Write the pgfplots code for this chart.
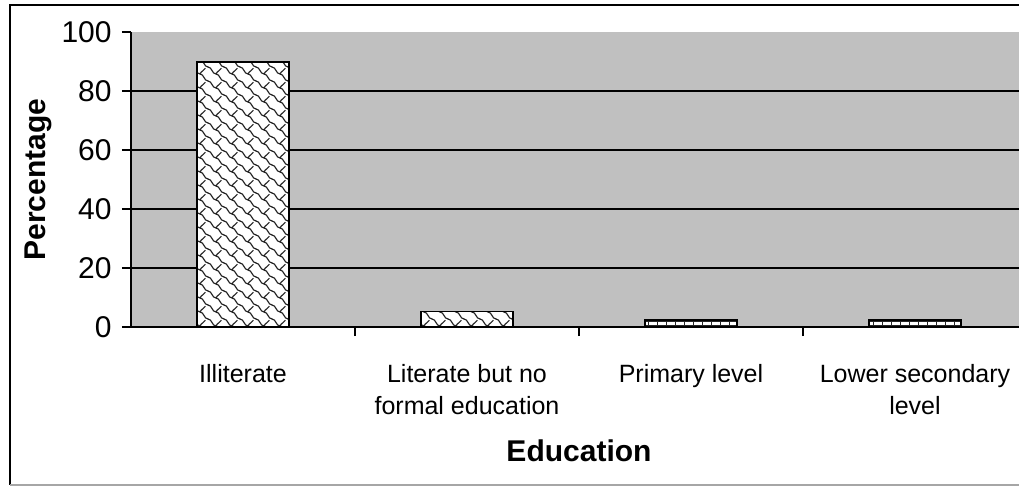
\documentclass[border=0pt]{standalone}
\usepackage{pgfplots}
\pgfplotsset{compat=1.18}
\usepackage{fontspec}
\setmainfont{Liberation Sans}
\usetikzlibrary{patterns}
\definecolor{graybg}{HTML}{C0C0C0}
\pgfdeclarepatternformonly{myscales}{\pgfqpoint{-1pt}{-1pt}}{\pgfqpoint{9pt}{8pt}}{\pgfqpoint{8pt}{7pt}}{
 \pgfsetlinewidth{0.6pt}
 \pgfpathmoveto{\pgfqpoint{0pt}{7pt}}
 \pgfpathcurveto{\pgfqpoint{2pt}{7pt}}{\pgfqpoint{2pt}{3.5pt}}{\pgfqpoint{4pt}{3.5pt}}
 \pgfpathcurveto{\pgfqpoint{6pt}{3.5pt}}{\pgfqpoint{6pt}{0pt}}{\pgfqpoint{8pt}{0pt}}
 \pgfpathmoveto{\pgfqpoint{4pt}{3.5pt}}
 \pgfpathcurveto{\pgfqpoint{4.8pt}{5.3pt}}{\pgfqpoint{6.1pt}{5pt}}{\pgfqpoint{6.7pt}{6.4pt}}
 \pgfusepath{stroke}
}
\pgfdeclarepatternformonly{mydashes}{\pgfqpoint{-1pt}{-1pt}}{\pgfqpoint{5pt}{3pt}}{\pgfqpoint{4.5pt}{2pt}}{
 \pgfsetlinewidth{0.45pt}
 \pgfpathmoveto{\pgfqpoint{0pt}{1pt}}
 \pgfpathlineto{\pgfqpoint{4.5pt}{1pt}}
 \pgfpathmoveto{\pgfqpoint{0.2pt}{0pt}}
 \pgfpathlineto{\pgfqpoint{0.2pt}{2pt}}
 \pgfusepath{stroke}
}
\pgfplotstableread{
x y
0 89.8
1 5.2
}\tableA
\pgfplotstableread{
x y
2 2.4
3 2.4
}\tableB
\begin{document}
\begin{tikzpicture}
\clip (-65.5pt,-80pt) rectangle (444pt,163.5pt);
\begin{axis}[
  scale only axis,
  width=448pt, height=147.5pt,
  xmin=-0.5, xmax=3.5, ymin=0, ymax=100,
  axis x line*=bottom, axis y line*=left,
  axis line style={line width=1pt, black},
  axis background/.style={fill=graybg},
  tick align=outside,
  major tick length=4.5pt,
  every tick/.style={black, line width=1pt},
  xtick={0.5,1.5,2.5}, xticklabels={},
  extra x ticks={0,1,2,3},
  extra x tick labels={Illiterate,{Literate but no\\formal education},Primary level,{Lower secondary\\level}},
  extra x tick style={major tick length=0pt,
    xticklabel style={align=center, anchor=north, inner sep=0pt, yshift=-18.5pt,
      font=\fontsize{12.5}{16}\selectfont}},
  ytick={0,20,...,100},
  extra y ticks={20,40,60,80},
  extra y tick labels={},
  extra y tick style={major tick length=0pt, grid=major},
  grid style={black, line width=1pt},
  /pgf/number format/assume math mode=true,
  yticklabel style={anchor=east, inner sep=0pt, xshift=-5pt, font=\fontsize{15}{17}\selectfont},
  xlabel={Education},
  xlabel style={at={(axis description cs:0.5,0)}, anchor=base, yshift=-67pt, inner sep=0pt,
    font=\fontsize{15}{17}\selectfont\bfseries},
  ylabel={Percentage},
  ylabel style={at={(axis description cs:0,0.5)}, anchor=north, yshift=53.5pt, inner sep=0pt,
    font=\fontsize{15}{17}\selectfont\bfseries},
  ybar, bar width=46pt, bar shift=0pt,
]
\addplot[draw=black, line width=0.75pt, preaction={fill=white}, pattern=myscales, pattern color=black!85, bar shift=0pt] table[x=x,y=y] {\tableA};
\addplot[draw=black, line width=0.75pt, preaction={fill=white}, pattern=mydashes, pattern color=black!85, bar shift=0pt] table[x=x,y=y] {\tableB};
\end{axis}
\draw[line width=1pt, black] (460pt,161pt) -- (-60.5pt,161pt) -- (-60.5pt,-79pt);
\draw[line width=0.6pt, black!35] (-60.5pt,-79pt) -- (460pt,-79pt);
\end{tikzpicture}
\end{document}
